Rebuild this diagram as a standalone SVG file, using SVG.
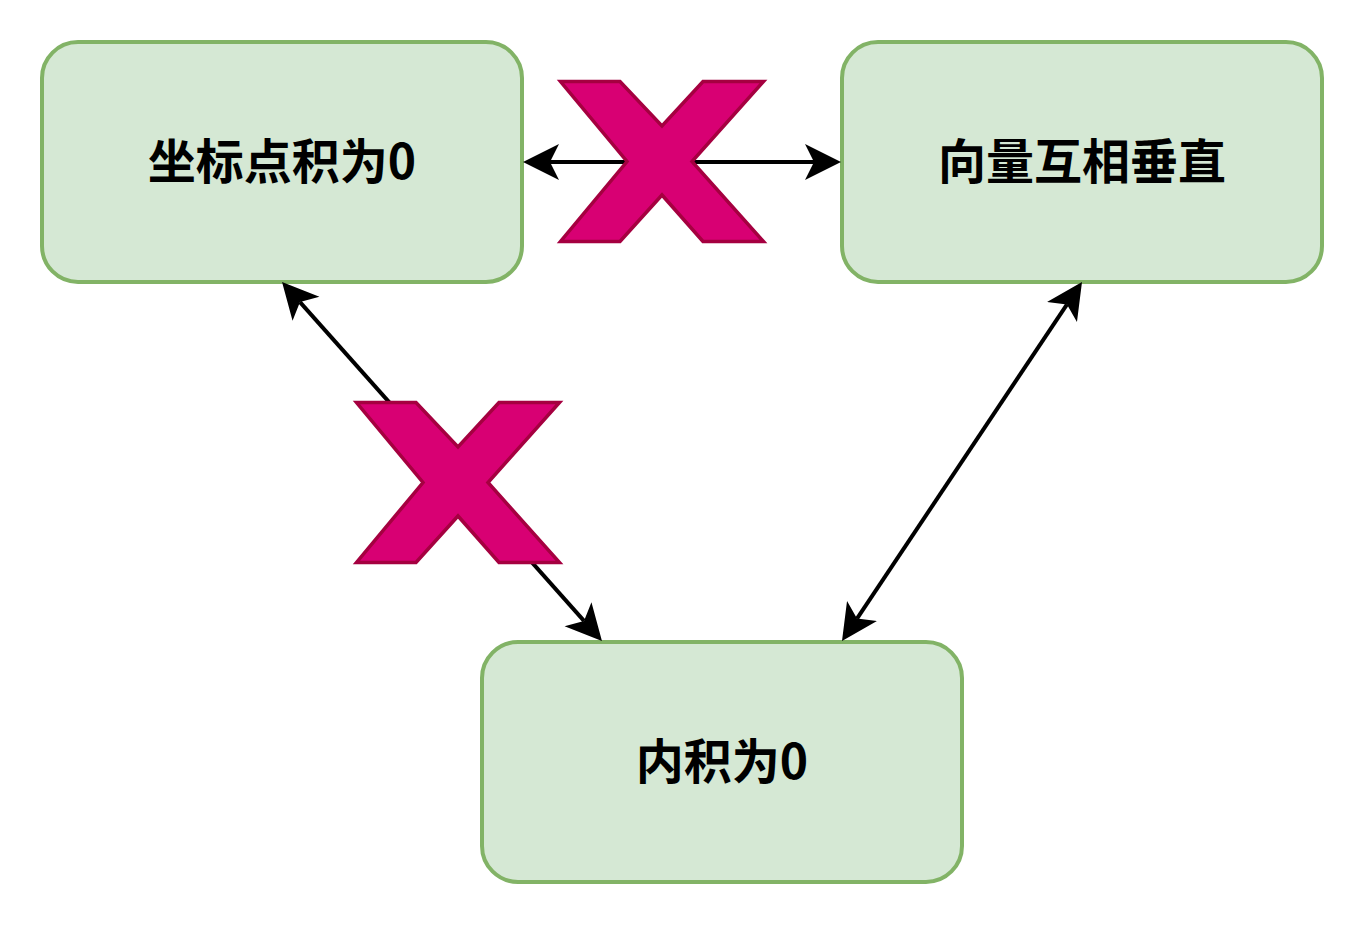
<svg xmlns="http://www.w3.org/2000/svg" width="1364" height="928" viewBox="0 0 1364 928">
<style>
.box{fill:#d5e8d4;stroke:#82b366;stroke-width:4}
.lbl{font-family:"Noto Sans CJK SC","Noto Sans",sans-serif;font-weight:bold;font-size:48px;fill:#000;text-anchor:middle}
.edge{fill:none;stroke:#000;stroke-width:4}
.cross{fill:#d80073;stroke:#a50040;stroke-width:3.5;stroke-linejoin:miter}
</style>
<defs>
<marker id="arr" markerUnits="userSpaceOnUse" markerWidth="40" markerHeight="40" viewBox="0 -20 40 40" refX="9" refY="0" orient="auto-start-reverse">
<path d="M0,-18 L36,0 L0,18 L9,0 Z" fill="#000"/>
</marker>
<path id="xshape" d="M1.5,1.5 L61,1.5 L103,46 L144,1.5 L204.5,1.5 L133,81.5 L204.5,161.5 L144,161.5 L103,115 L61,161.5 L1.5,161.5 L68,81.5 Z"/>
</defs>
<rect width="1364" height="928" fill="#fff"/>
<g id="node-dot">
<rect class="box" x="42" y="42" width="480" height="240" rx="36" ry="36"/>
<text class="lbl" x="282" y="179">坐标点积为0</text>
</g>
<g id="node-perp">
<rect class="box" x="842" y="42" width="480" height="240" rx="36" ry="36"/>
<text class="lbl" x="1082" y="179">向量互相垂直</text>
</g>
<g id="node-inner">
<rect class="box" x="482" y="642" width="480" height="240" rx="36" ry="36"/>
<text class="lbl" x="722" y="779">内积为0</text>
</g>
<g id="connectors">
<line class="edge" x1="550" y1="162" x2="814" y2="162" marker-start="url(#arr)" marker-end="url(#arr)"/>
<line class="edge" x1="300" y1="302.1" x2="584" y2="620.9" marker-start="url(#arr)" marker-end="url(#arr)"/>
<line class="edge" x1="1067" y1="304.4" x2="857" y2="618.6" marker-start="url(#arr)" marker-end="url(#arr)"/>
</g>
<g id="cross-top">
<use href="#xshape" class="cross" transform="translate(559,80)"/>
</g>
<g id="cross-left">
<use href="#xshape" class="cross" transform="translate(355,401)"/>
</g>
</svg>
